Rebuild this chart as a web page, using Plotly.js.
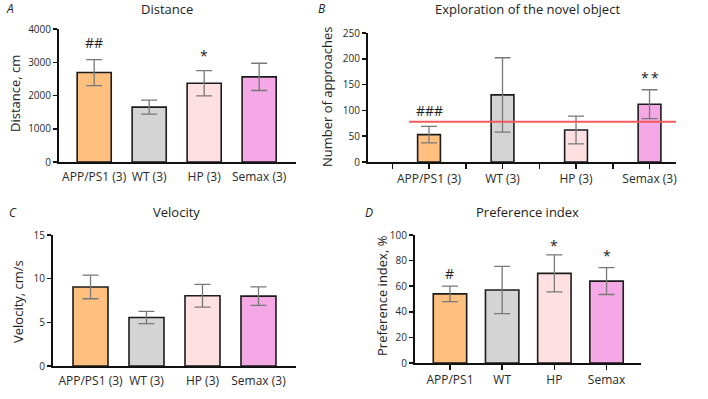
<!DOCTYPE html>
<html>
<head>
<meta charset="utf-8">
<script src="https://cdn.plot.ly/plotly-3.0.1.min.js"></script>
<style>
  html, body { margin: 0; padding: 0; background: #fff; }
  #chart { width: 708px; height: 399px; }
</style>
</head>
<body>
<div id="chart"></div>
<script>
// Group labels
const groupsCounted = ['APP/PS1 (3)', 'WT (3)', 'HP (3)', 'Semax (3)'];
const groupsShort = ['APP/PS1', 'WT', 'HP', 'Semax'];

// A: distance travelled, cm (mean, SD)
const distanceMean = [2690, 1650, 2370, 2560];
const distanceErr = [390, 210, 380, 410];

// B: approaches to the novel object (mean, SD) and reference level
const approachesMean = [53, 130, 62, 112];
const approachesErr = [16, 72, 27, 28];
const approachesRef = 78;

// C: velocity, cm/s
const velocityMean = [9.05, 5.55, 8.05, 8.0];
const velocityErr = [1.35, 0.7, 1.3, 1.05];

// D: preference index, %
const preferenceMean = [54, 57, 70, 64];
const preferenceErr = [6, 18.5, 14.5, 10.5];

const groupColors = ['#ffc07f', '#d4d4d4', '#ffe0e2', '#f4a9e6'];

const FONT = '"Open Sans", Lato, sans-serif';
const W = 708, H = 399;
const px = v => v / W;          // horizontal pixel -> paper
const py = v => 1 - v / H;      // vertical pixel -> paper

function barTrace(x, y, err, xa, ya, width) {
  return {
    type: 'bar', x: x, y: y, xaxis: xa, yaxis: ya, width: width,
    marker: { color: groupColors, line: { color: '#1c1c1c', width: 1.6 } },
    error_y: { type: 'data', array: err, visible: true, color: '#787878', thickness: 1.3, width: 8 },
    hoverinfo: 'x+y', showlegend: false
  };
}

const bIdx = groupsCounted.map((_, i) => i);

const data = [
  barTrace(groupsCounted, distanceMean, distanceErr, 'x', 'y', 0.62),
  barTrace(bIdx, approachesMean, approachesErr, 'x2', 'y2', 0.31),
  barTrace(groupsCounted, velocityMean, velocityErr, 'x3', 'y3', 0.625),
  barTrace(groupsShort, preferenceMean, preferenceErr, 'x4', 'y4', 0.64)
];

const axisLine = { showline: true, linecolor: '#111', linewidth: 2, showgrid: false, zeroline: false, fixedrange: true };
const tickFont = { family: FONT, size: 12, color: '#2a2a2a' };
const yTicks = { ticks: 'outside', ticklen: 4, tickwidth: 1.5, tickcolor: '#111', tickfont: { family: FONT, size: 10, color: '#2a2a2a' } };

// B tick marks at every category and between categories
const bTickVals = [], bTickText = [];
for (let i = -0.5; i <= groupsCounted.length - 1 + 1e-9; i += 0.5) {
  bTickVals.push(i);
  bTickText.push(Number.isInteger(i) ? groupsCounted[i] : '');
}

const layout = {
  width: W, height: H,
  margin: { l: 0, r: 0, t: 0, b: 0 },
  paper_bgcolor: '#fff', plot_bgcolor: '#fff',
  font: { family: FONT, color: '#222' },
  bargap: 0,
  xaxis: Object.assign({}, axisLine, { domain: [px(59), px(296)], range: [-0.64, 3.67], type: 'category', ticks: '', tickfont: tickFont, ticklabelstandoff: 3, anchor: 'y' }),
  yaxis: Object.assign({}, axisLine, yTicks, { domain: [py(162), py(29)], range: [0, 4000], tickvals: [0, 1000, 2000, 3000, 4000], anchor: 'x' }),
  xaxis2: Object.assign({}, axisLine, { domain: [px(368), px(676)], range: [-0.83, 3.36], type: 'linear', tickvals: bTickVals, ticktext: bTickText, ticks: 'outside', ticklen: 5, tickwidth: 1.5, tickcolor: '#111', tickfont: tickFont, anchor: 'y2' }),
  yaxis2: Object.assign({}, axisLine, yTicks, { domain: [py(162), py(33)], range: [0, 250], tickvals: [0, 50, 100, 150, 200, 250], anchor: 'x2' }),
  xaxis3: Object.assign({}, axisLine, { domain: [px(53), px(296)], range: [-0.67, 3.67], type: 'category', ticks: '', tickfont: tickFont, ticklabelstandoff: 3, anchor: 'y3' }),
  yaxis3: Object.assign({}, axisLine, yTicks, { domain: [py(366), py(235)], range: [0, 15], tickvals: [0, 5, 10, 15], anchor: 'x3' }),
  xaxis4: Object.assign({}, axisLine, { domain: [px(415), px(641)], range: [-0.67, 3.66], type: 'category', ticks: 'outside', ticklen: 5, tickwidth: 1.5, tickcolor: '#111', tickfont: tickFont, anchor: 'y4' }),
  yaxis4: Object.assign({}, axisLine, yTicks, { domain: [py(363), py(235)], range: [0, 100], tickvals: [0, 20, 40, 60, 80, 100], anchor: 'x4' }),
  shapes: [
    { type: 'line', xref: 'x2', yref: 'y2', x0: -0.27, x1: 3.36, y0: approachesRef, y1: approachesRef,
      line: { color: '#f25a5c', width: 2 } }
  ],
  annotations: []
};

const A = layout.annotations;
const titleFont = { family: FONT, size: 13, color: '#222' };
const axisTitleFont = { family: FONT, size: 13, color: '#222' };
const letterFont = { family: FONT, size: 12, color: '#222' };

// Panel titles
[['Distance', 167, 9], ['Exploration of the novel object', 527, 9], ['Velocity', 176, 212], ['Preference index', 527, 212]]
  .forEach(([t, x, y]) => A.push({ text: t, xref: 'paper', yref: 'paper', x: px(x), y: py(y), xanchor: 'center', yanchor: 'middle', showarrow: false, font: titleFont }));

// Panel letters
[['A', 10, 9], ['B', 322, 9], ['C', 13, 212], ['D', 369, 212]]
  .forEach(([t, x, y]) => A.push({ text: '<i>' + t + '</i>', xref: 'paper', yref: 'paper', x: px(x), y: py(y), xanchor: 'center', yanchor: 'middle', showarrow: false, font: letterFont }));

// Y axis titles
[['Distance, cm', 15, 94], ['Number of approaches', 327, 97], ['Velocity, cm/s', 18, 302], ['Preference index, %', 382, 296]]
  .forEach(([t, x, y]) => A.push({ text: t, xref: 'paper', yref: 'paper', x: px(x), y: py(y), xanchor: 'center', yanchor: 'middle', textangle: -90, showarrow: false, font: axisTitleFont }));

// Significance marks
const sigFont = { family: FONT, size: 14, color: '#222' };
[
  ['##', 'x', 'y', groupsCounted[0], 3580],
  ['*', 'x', 'y', groupsCounted[2], 3190],
  ['###', 'x2', 'y2', 0, 99],
  ['*\u2009*', 'x2', 'y2', 3, 163],
  ['#', 'x4', 'y4', groupsShort[0], 70],
  ['*', 'x4', 'y4', groupsShort[2], 92],
  ['*', 'x4', 'y4', groupsShort[3], 84]
].forEach(([t, xr, yr, x, y]) => A.push({ text: t, xref: xr, yref: yr, x: x, y: y, xanchor: 'center', yanchor: 'middle', showarrow: false, font: sigFont }));

Plotly.newPlot('chart', data, layout, { staticPlot: true, displayModeBar: false });
</script>
</body>
</html>
